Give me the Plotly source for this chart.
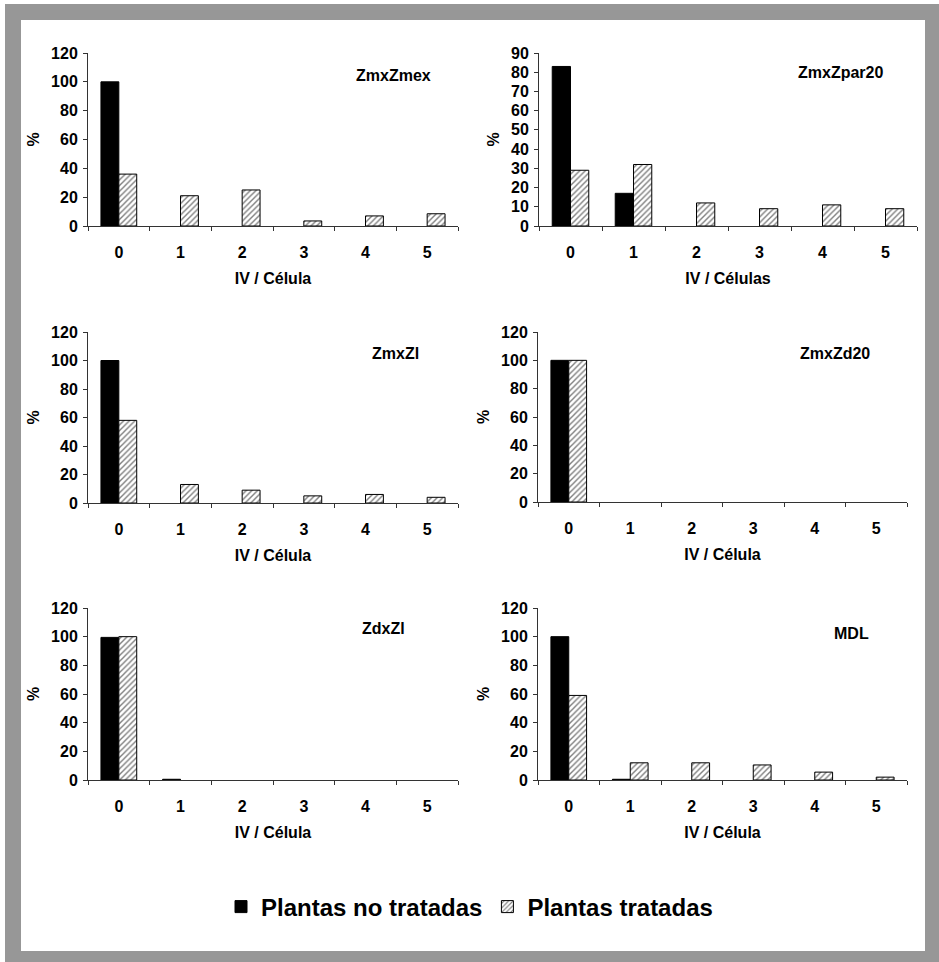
import plotly.graph_objects as go
from plotly.subplots import make_subplots

W, H = 939, 962

categories = ["0", "1", "2", "3", "4", "5"]
panel_names = ["ZmxZmex", "ZmxZpar20", "ZmxZl", "ZmxZd20", "ZdxZl", "MDL"]
x_titles = ["IV / Célula", "IV / Células", "IV / Célula", "IV / Célula", "IV / Célula", "IV / Célula"]
series_names = ["Plantas no tratadas", "Plantas tratadas"]

untreated_zmxzmex = [100, 0, 0, 0, 0, 0]
treated_zmxzmex = [36, 21, 25, 3.5, 7, 8.5]
untreated_zmxzpar20 = [83, 17, 0, 0, 0, 0]
treated_zmxzpar20 = [29, 32, 12, 9, 11, 9]
untreated_zmxzl = [100, 0, 0, 0, 0, 0]
treated_zmxzl = [58, 13, 9, 5, 6, 4]
untreated_zmxzd20 = [100, 0, 0, 0, 0, 0]
treated_zmxzd20 = [100, 0, 0, 0, 0, 0]
untreated_zdxzl = [99.5, 0.5, 0, 0, 0, 0]
treated_zdxzl = [100, 0, 0, 0, 0, 0]
untreated_mdl = [100, 0.5, 0, 0, 0, 0]
treated_mdl = [59, 12, 12, 10.5, 5.5, 2]

y_max = [120, 90, 120, 120, 120, 120]
y_step = [20, 10, 20, 20, 20, 20]

untreated = [untreated_zmxzmex, untreated_zmxzpar20, untreated_zmxzl,
             untreated_zmxzd20, untreated_zdxzl, untreated_mdl]
treated = [treated_zmxzmex, treated_zmxzpar20, treated_zmxzl,
           treated_zmxzd20, treated_zdxzl, treated_mdl]

FONT = "Arial, Liberation Sans, sans-serif"
FS = 16


def hide_zero(vals):
    # zero-height bars are not drawn in the original (no outline line)
    return [v if v != 0 else None for v in vals]


# pixel geometry of panels (left, right, top, bottom)
boxes = [
    (88, 458, 53, 226), (539, 917, 53, 226),
    (88, 458, 332, 503), (538, 907, 332, 502),
    (88, 458, 608, 780), (538, 907, 608, 780),
]

fig = make_subplots(rows=3, cols=2)

for i in range(6):
    r, c = i // 2 + 1, i % 2 + 1
    fig.add_trace(go.Bar(
        x=categories, y=hide_zero(untreated[i]), name="<b>" + series_names[0] + "</b>",
        marker=dict(color="black", line=dict(color="black", width=1)),
        showlegend=(i == 0), legendgroup="a"), row=r, col=c)
    fig.add_trace(go.Bar(
        x=categories, y=hide_zero(treated[i]), name="<b>" + series_names[1] + "</b>",
        marker=dict(color="white", line=dict(color="black", width=1),
                    pattern=dict(shape="/", fgcolor="black", bgcolor="white",
                                 size=4, solidity=0.35)),
        showlegend=(i == 0), legendgroup="b"), row=r, col=c)

for i in range(6):
    l, rr, t, b = boxes[i]
    xa = "xaxis" if i == 0 else f"xaxis{i+1}"
    ya = "yaxis" if i == 0 else f"yaxis{i+1}"
    fig.layout[xa].update(
        domain=[l / W, rr / W], type="category", range=[-0.5, 5.5],
        tickson="boundaries", ticks="outside", ticklen=4, tickcolor="#333",
        ticklabelstandoff=12, automargin=False,
        showline=True, linecolor="#333", linewidth=1, showgrid=False,
        tickfont=dict(family=FONT, size=FS, color="black", weight="bold"),
        title=dict(text=x_titles[i], standoff=12,
                   font=dict(family=FONT, size=FS, color="black", weight="bold")),
        fixedrange=True)
    fig.layout[ya].update(
        domain=[1 - b / H, 1 - t / H], range=[0, y_max[i]], dtick=y_step[i],
        ticks="outside", ticklen=4, tickcolor="#333", automargin=False,
        ticklabelstandoff=2,
        showline=True, linecolor="#333", linewidth=1, showgrid=False,
        zeroline=False,
        tickfont=dict(family=FONT, size=FS, color="black", weight="bold"),
        title=dict(text="%", standoff=7,
                   font=dict(family=FONT, size=FS, color="black", weight="bold")),
        fixedrange=True)

ann_pos = [(393, 75), (840, 73), (395, 353), (835, 354), (383, 628), (851, 633)]
for i, (ax, ay) in enumerate(ann_pos):
    fig.add_annotation(
        text=panel_names[i], x=ax / W, y=1 - ay / H, xref="paper", yref="paper",
        showarrow=False, xanchor="center", yanchor="middle",
        font=dict(family=FONT, size=FS, color="black", weight="bold"))

# gray frame
fig.add_shape(type="rect", xref="paper", yref="paper",
              x0=5 / W, x1=1, y0=0, y1=1 - 4 / H,
              fillcolor="#979797", line=dict(width=0), layer="below")
fig.add_shape(type="rect", xref="paper", yref="paper",
              x0=21 / W, x1=925 / W, y0=1 - 951 / H, y1=1 - 20 / H,
              fillcolor="white", line=dict(width=0), layer="below")

fig.update_layout(
    width=W, height=H,
    margin=dict(l=0, r=0, t=0, b=0, pad=0, autoexpand=False),
    paper_bgcolor="white", plot_bgcolor="rgba(0,0,0,0)",
    barmode="group", bargap=0.42, bargroupgap=0,
    showlegend=True,
    legend=dict(orientation="h", x=0.5, xanchor="center",
                y=1 - 907 / H, yanchor="middle",
                font=dict(family=FONT, size=24, color="black", weight="bold"),
                bgcolor="rgba(0,0,0,0)", itemwidth=30, tracegroupgap=0),
    font=dict(family=FONT, color="black"),
)

fig.write_html("out.html", config={"displayModeBar": False},
               post_script="document.body.style.margin='0px';document.body.style.overflow='hidden';")
